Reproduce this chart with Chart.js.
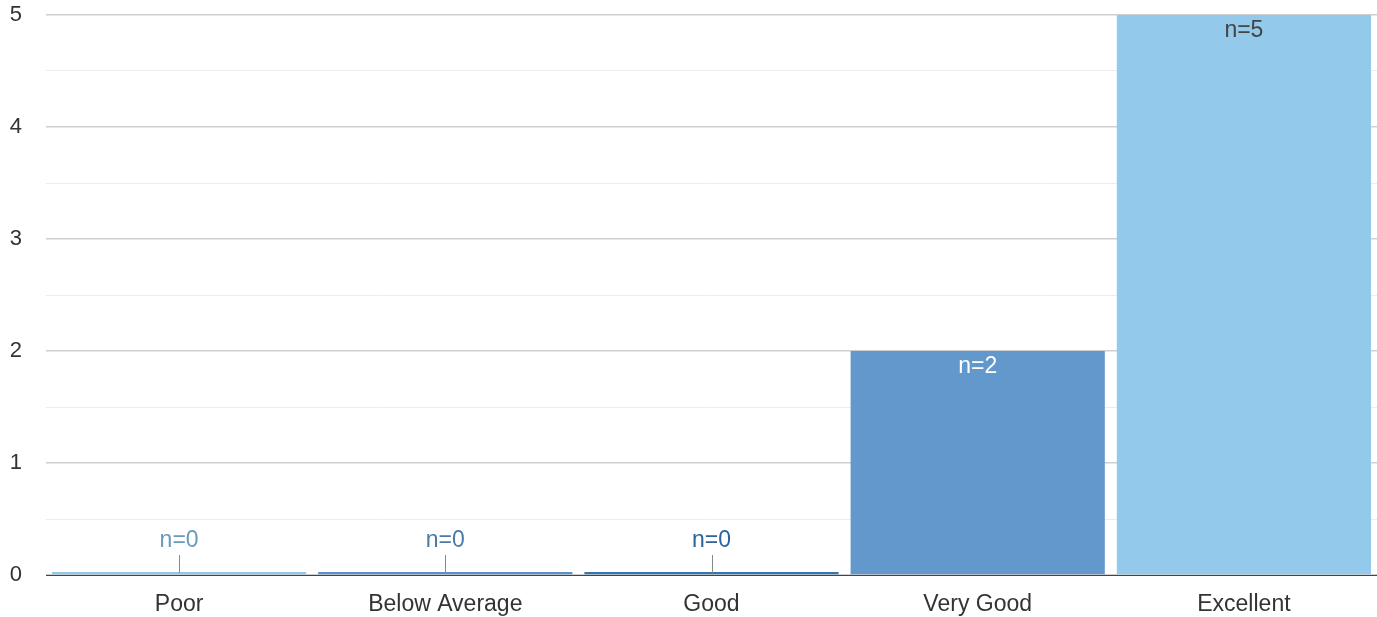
<!DOCTYPE html>
<html lang="en">
<head>
    <meta charset="UTF-8">
    <title>Ratings</title>
    <script src="https://cdn.jsdelivr.net/npm/chart.js"></script>
    <style>
        body {
            margin: 0;
            background: #fff;
            overflow: hidden;
            font-family: "Liberation Sans", Arial, sans-serif;
        }
        .chart-box {
            width: 1377px;
            height: 617px;
        }
    </style>
</head>
<body>
<div class="chart-box">
    <canvas id="myChart"></canvas>
</div>
<script>
    const categories = ["Poor", "Below Average", "Good", "Very Good", "Excellent"];
    const counts = [0, 0, 0, 2, 5];
    const barColors = ["#8fc9ea", "#5b92c6", "#3674b0", "#6298cc", "#93c9ea"];
    const labelColors = ["#6a9aba", "#4a7ba6", "#2c639a", "#ffffff", "#444444"];
    const yTicks = [0, 1, 2, 3, 4, 5];

    const FONT = '"Liberation Sans", Arial, sans-serif';

    // draws the "n=" labels, above zero bars with a small leader line
    const countLabels = {
        id: 'countLabels',
        afterDatasetsDraw(chart) {
            const ctx = chart.ctx;
            const meta = chart.getDatasetMeta(0);
            const yScale = chart.scales.y;
            ctx.save();
            ctx.font = '23px ' + FONT;
            ctx.textAlign = 'center';
            ctx.textBaseline = 'middle';
            meta.data.forEach((bar, i) => {
                const v = counts[i];
                const base = yScale.getPixelForValue(0);
                if (v === 0) {
                    ctx.strokeStyle = '#888';
                    ctx.lineWidth = 1;
                    ctx.beginPath();
                    ctx.moveTo(Math.round(bar.x) + 0.5, base - 20);
                    ctx.lineTo(Math.round(bar.x) + 0.5, base - 2);
                    ctx.stroke();
                    ctx.fillStyle = labelColors[i];
                    ctx.fillText('n=' + v, bar.x, base - 34);
                } else {
                    ctx.fillStyle = labelColors[i];
                    ctx.fillText('n=' + v, bar.x, bar.y + 16);
                }
            });
            ctx.restore();
        }
    };

    new Chart(document.getElementById('myChart'), {
        type: 'bar',
        data: {
            labels: categories,
            datasets: [{
                data: counts,
                backgroundColor: barColors,
                borderWidth: 0,
                minBarLength: 3,
                barPercentage: 0.955,
                categoryPercentage: 1
            }]
        },
        options: {
            responsive: true,
            maintainAspectRatio: false,
            animation: false,
            layout: { padding: { top: 15, right: 0, left: 0, bottom: 0 } },
            plugins: {
                legend: { display: false },
                tooltip: { enabled: false }
            },
            scales: {
                x: {
                    grid: { display: false, drawTicks: false },
                    border: { color: '#444', width: 1 },
                    ticks: {
                        color: '#333',
                        font: { family: FONT, size: 23 },
                        padding: 16
                    },
                    afterFit: (s) => { s.height = 42; s.paddingLeft = 0; s.paddingRight = 0; }
                },
                y: {
                    min: 0,
                    max: 5,
                    border: { display: false },
                    grid: {
                        drawTicks: false,
                        color: (c) => (c.tick && Number.isInteger(c.tick.value)) ? '#cfcfcf' : '#ececec',
                        lineWidth: (c) => (c.tick && Number.isInteger(c.tick.value)) ? 1.5 : 1
                    },
                    ticks: {
                        stepSize: 0.5,
                        color: '#333',
                        font: { family: FONT, size: 22 },
                        padding: 24,
                        callback: (v) => yTicks.includes(v) ? v : ''
                    },
                    afterFit: (s) => { s.width = 46; s.paddingTop = 0; s.paddingBottom = 0; }
                }
            }
        },
        plugins: [countLabels]
    });
</script>
</body>
</html>
